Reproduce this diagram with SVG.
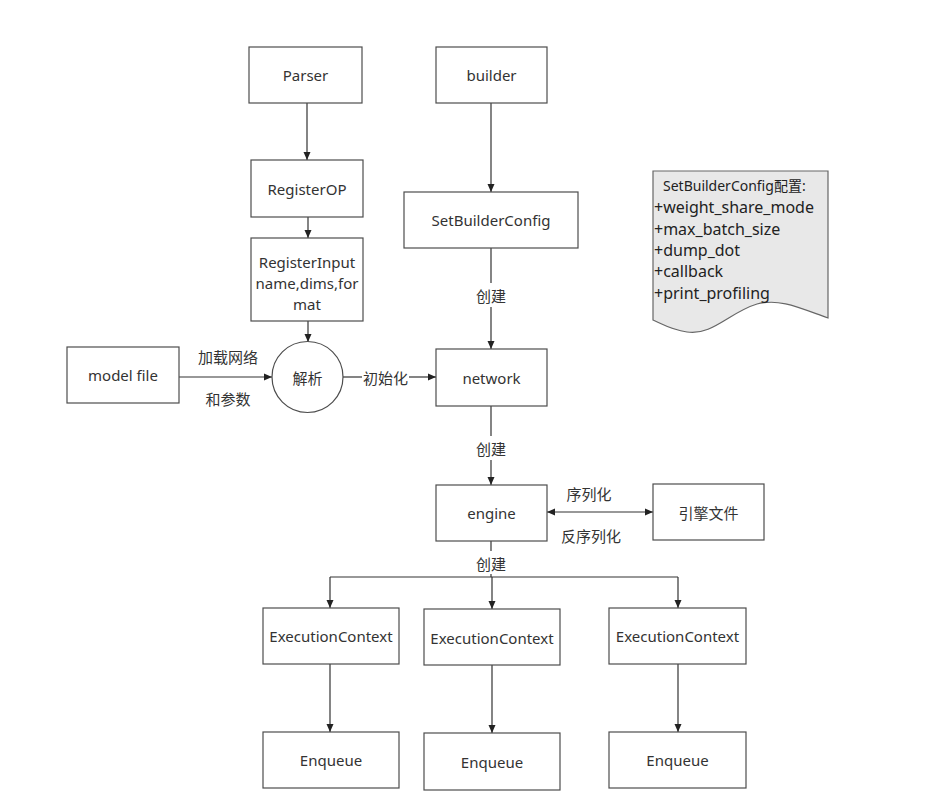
<svg xmlns="http://www.w3.org/2000/svg" width="935" height="805" viewBox="0 0 935 805">
  <style>
    .box { fill: #ffffff; stroke: #4d4d4d; stroke-width: 1.2; }
    .txt { font-family: "Noto Sans", "Open Sans", "Noto Sans CJK SC", sans-serif; font-size: 15px; fill: #333333; text-anchor: middle; dominant-baseline: central; }
    .lbl { font-family: "Noto Sans CJK SC", "Noto Sans", sans-serif; font-size: 15px; fill: #333333; text-anchor: middle; dominant-baseline: central; }
    .note { font-family: "Noto Sans", "Open Sans", "Noto Sans CJK SC", sans-serif; font-size: 16px; fill: #222222; }
    .note-title { font-size: 14px; }
    .edge { fill: none; stroke: #333333; stroke-width: 1.2; }
    .arrow { marker-end: url(#head); }
    .both { marker-start: url(#head); marker-end: url(#head); }
  </style>
  <defs>
    <marker id="head" markerUnits="userSpaceOnUse" markerWidth="9" markerHeight="8" refX="8" refY="4" orient="auto-start-reverse">
      <path d="M0,0.5 L8,4 L0,7.5 Z" fill="#222222"/>
    </marker>
  </defs>

  <rect width="935" height="805" fill="#ffffff"/>

  <!-- connectors -->
  <g id="connectors">
    <path class="edge arrow" d="M307,103 V160"/>
    <path class="edge arrow" d="M308,217 V238"/>
    <path class="edge arrow" d="M308,321 V342"/>
    <path class="edge arrow" d="M179,377 H272"/>
    <path class="edge" d="M343,377 H362"/>
    <path class="edge arrow" d="M409,377 H436"/>
    <path class="edge arrow" d="M491,103 V192"/>
    <path class="edge" d="M491,248 V283"/>
    <path class="edge arrow" d="M491,307 V349"/>
    <path class="edge" d="M491,406 V436"/>
    <path class="edge arrow" d="M491,460 V485"/>
    <path class="edge both" d="M547,512 H653"/>
    <path class="edge" d="M491,541 V551"/>
    <path class="edge" d="M491,574 V577"/>
    <path class="edge" d="M330,577 H678"/>
    <path class="edge arrow" d="M330,577 V608"/>
    <path class="edge arrow" d="M492,577 V609"/>
    <path class="edge arrow" d="M678,577 V608"/>
    <path class="edge arrow" d="M330,664 V732"/>
    <path class="edge arrow" d="M492,665 V733"/>
    <path class="edge arrow" d="M678,664 V732"/>

    <!-- connector labels -->
    <text class="lbl" x="228" y="356">加载网络</text>
    <text class="lbl" x="228" y="398">和参数</text>
    <text class="lbl" x="385.5" y="377">初始化</text>
    <text class="lbl" x="491" y="295">创建</text>
    <text class="lbl" x="491" y="448">创建</text>
    <text class="lbl" x="589" y="493">序列化</text>
    <text class="lbl" x="591" y="535">反序列化</text>
    <text class="lbl" x="491" y="563">创建</text>
  </g>

  <!-- nodes -->
  <g id="parser">
    <rect class="box" x="249" y="47" width="113" height="56"/>
    <text class="txt" x="305.5" y="75">Parser</text>
  </g>
  <g id="builder">
    <rect class="box" x="436" y="47" width="111" height="56"/>
    <text class="txt" x="491.5" y="75">builder</text>
  </g>
  <g id="register-op">
    <rect class="box" x="251" y="160" width="112" height="57"/>
    <text class="txt" x="307" y="188.5">RegisterOP</text>
  </g>
  <g id="set-builder-config">
    <rect class="box" x="404" y="192" width="174" height="56"/>
    <text class="txt" x="491" y="220">SetBuilderConfig</text>
  </g>
  <g id="register-input">
    <rect class="box" x="251" y="238" width="112" height="83"/>
    <text class="txt" x="307" y="262">RegisterInput</text>
    <text class="txt" x="307" y="283">name,dims,for</text>
    <text class="txt" x="307" y="304">mat</text>
  </g>
  <g id="model-file">
    <rect class="box" x="67" y="347" width="112" height="56"/>
    <text class="txt" x="123" y="375">model file</text>
  </g>
  <g id="parse">
    <circle class="box" cx="307.5" cy="377" r="35.5"/>
    <text class="lbl" x="307.5" y="377">解析</text>
  </g>
  <g id="network">
    <rect class="box" x="436" y="349" width="111" height="57"/>
    <text class="txt" x="491.5" y="377.5">network</text>
  </g>
  <g id="engine">
    <rect class="box" x="436" y="485" width="111" height="56"/>
    <text class="txt" x="491.5" y="513">engine</text>
  </g>
  <g id="engine-file">
    <rect class="box" x="653" y="484" width="111" height="56"/>
    <text class="lbl" x="708.5" y="512">引擎文件</text>
  </g>
  <g id="config-note">
    <path d="M653,171 H828 V318 C800,308 780,298 757,304 C730,312 712,336 687,332 C672,330 662,324 653,320 Z" fill="#e8e8e8" stroke="#666666" stroke-width="1.2"/>
    <text class="note note-title" x="663" y="191">SetBuilderConfig配置:</text>
    <text class="note" x="654" y="213">+weight_share_mode</text>
    <text class="note" x="654" y="235">+max_batch_size</text>
    <text class="note" x="654" y="256">+dump_dot</text>
    <text class="note" x="654" y="277">+callback</text>
    <text class="note" x="654" y="299">+print_profiling</text>
  </g>
  <g id="exec-context-1">
    <rect class="box" x="263" y="608" width="136" height="56"/>
    <text class="txt" x="331" y="636">ExecutionContext</text>
  </g>
  <g id="exec-context-2">
    <rect class="box" x="424" y="609" width="136" height="56"/>
    <text class="txt" x="492" y="637.5">ExecutionContext</text>
  </g>
  <g id="exec-context-3">
    <rect class="box" x="609" y="608" width="137" height="56"/>
    <text class="txt" x="677.5" y="636">ExecutionContext</text>
  </g>
  <g id="enqueue-1">
    <rect class="box" x="263" y="732" width="136" height="56"/>
    <text class="txt" x="331" y="760">Enqueue</text>
  </g>
  <g id="enqueue-2">
    <rect class="box" x="424" y="733" width="136" height="57"/>
    <text class="txt" x="492" y="762">Enqueue</text>
  </g>
  <g id="enqueue-3">
    <rect class="box" x="609" y="732" width="137" height="56"/>
    <text class="txt" x="677.5" y="760">Enqueue</text>
  </g>
</svg>
